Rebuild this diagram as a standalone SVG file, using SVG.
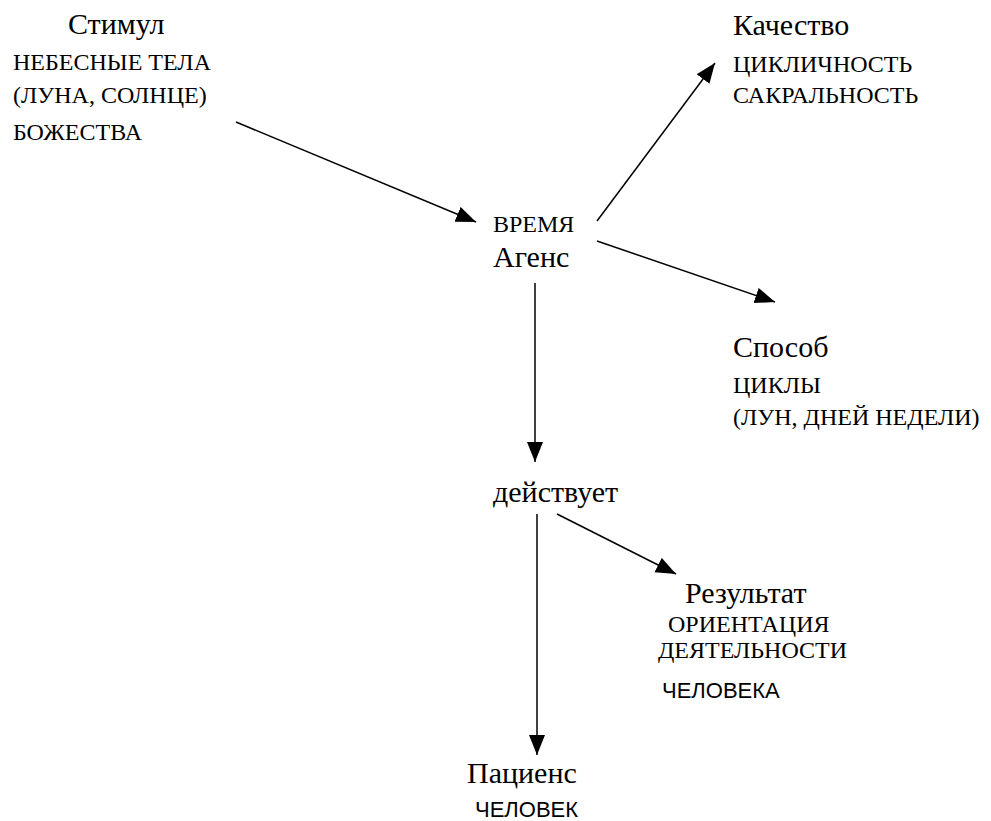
<svg xmlns="http://www.w3.org/2000/svg" width="991" height="821" viewBox="0 0 991 821">
<defs>
<marker id="arr" markerUnits="userSpaceOnUse" markerWidth="22" markerHeight="18" refX="20" refY="8" orient="auto" viewBox="0 0 22 18">
<path d="M0,0 L20,8 L0,16 z" fill="#000"/>
</marker>
<style>
.big{font-family:"Liberation Serif","Times New Roman",serif;font-size:30px;fill:#000}
.sm{font-family:"Liberation Serif","Times New Roman",serif;font-size:24px;fill:#000}
.ss{font-family:"Liberation Sans",Arial,sans-serif;font-size:22px;fill:#000}
.c{stroke:#000;stroke-width:1.5;fill:none;marker-end:url(#arr)}
</style>
</defs>
<rect width="991" height="821" fill="#fff"/>
<g id="stimul">
<text class="big" x="68" y="34">Стимул</text>
<text class="sm" x="13" y="70">НЕБЕСНЫЕ ТЕЛА</text>
<text class="sm" x="13" y="103">(ЛУНА, СОЛНЦЕ)</text>
<text class="sm" x="13" y="140">БОЖЕСТВА</text>
</g>
<g id="kachestvo">
<text class="big" x="733" y="35">Качество</text>
<text class="sm" x="733" y="72">ЦИКЛИЧНОСТЬ</text>
<text class="sm" x="733" y="103">САКРАЛЬНОСТЬ</text>
</g>
<g id="agens">
<text class="sm" x="493" y="232">ВРЕМЯ</text>
<text class="big" x="493" y="267">Агенс</text>
</g>
<g id="sposob">
<text class="big" x="733" y="357">Способ</text>
<text class="sm" x="733" y="393">ЦИКЛЫ</text>
<text class="sm" x="733" y="425">(ЛУН, ДНЕЙ НЕДЕЛИ)</text>
</g>
<g id="deystvuet">
<text class="big" x="493" y="502">действует</text>
</g>
<g id="rezultat">
<text class="big" x="685" y="603">Результат</text>
<text class="sm" x="668" y="632">ОРИЕНТАЦИЯ</text>
<text class="sm" x="658" y="658">ДЕЯТЕЛЬНОСТИ</text>
<text class="ss" x="662" y="698">ЧЕЛОВЕКА</text>
</g>
<g id="patsiens">
<text class="big" x="467" y="783">Пациенс</text>
<text class="ss" x="475" y="817">ЧЕЛОВЕК</text>
</g>
<g id="connectors">
<line class="c" x1="236" y1="122" x2="476" y2="222"/>
<line class="c" x1="597" y1="221" x2="715" y2="63"/>
<line class="c" x1="597" y1="241" x2="775" y2="302"/>
<line class="c" x1="535" y1="283" x2="535" y2="462"/>
<line class="c" x1="537" y1="514" x2="537" y2="755"/>
<line class="c" x1="557" y1="514" x2="676" y2="574"/>
</g>
</svg>
